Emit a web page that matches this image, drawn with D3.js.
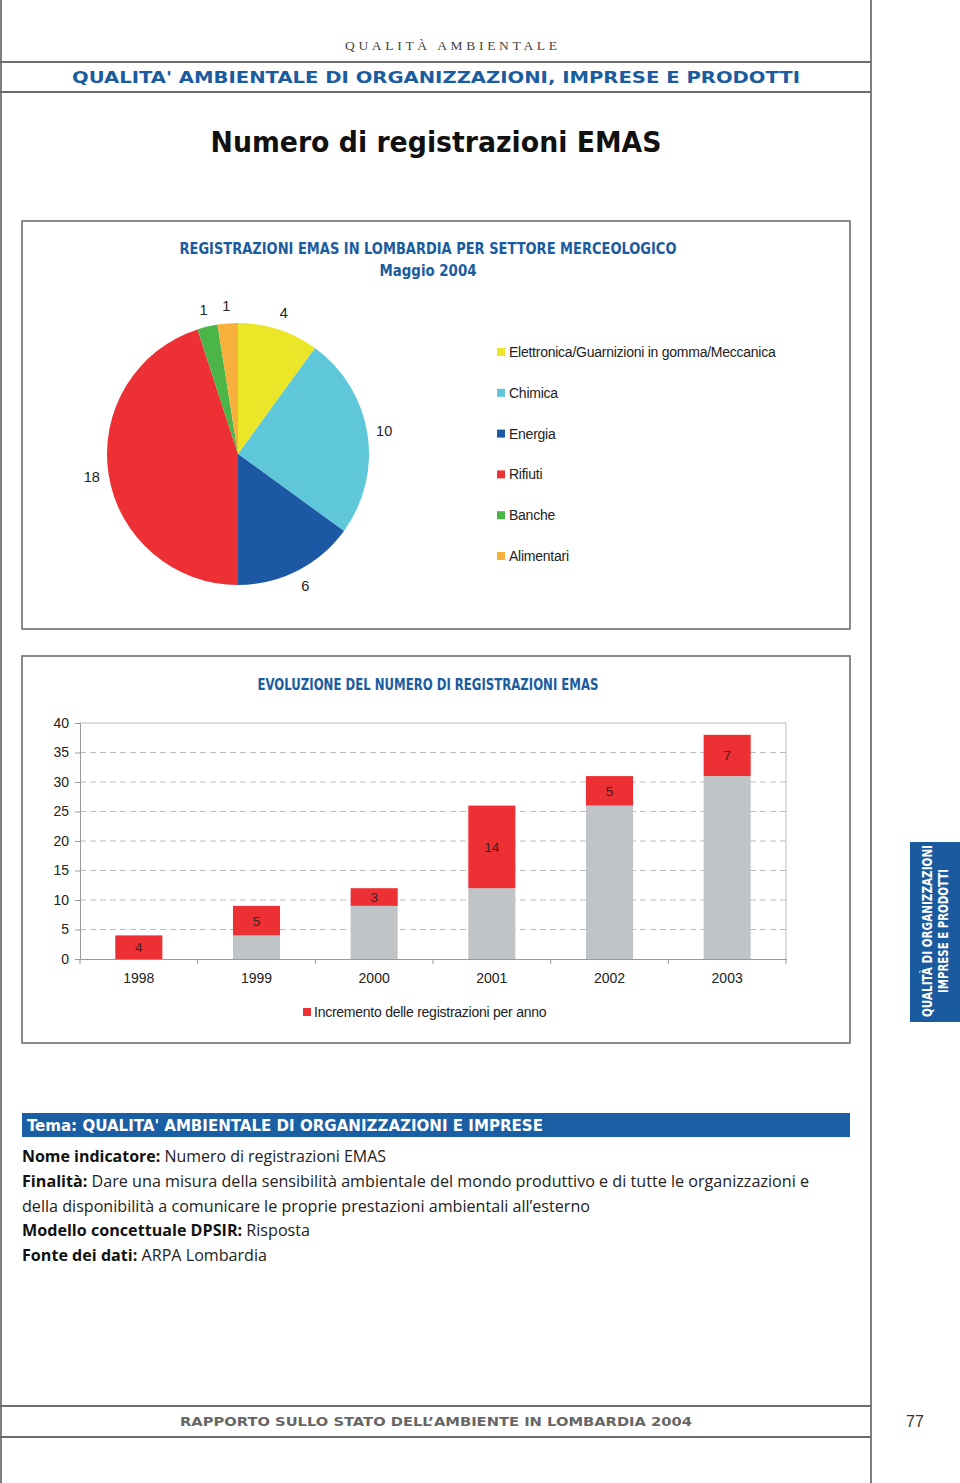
<!DOCTYPE html>
<html><head><meta charset="utf-8">
<script src="https://cdn.jsdelivr.net/npm/d3@7"></script>
<style>
html,body{margin:0;padding:0;background:#fff;}
svg{display:block;}
</style></head>
<body>
<script>
// ---- Data ----
const pieCategories = ["Elettronica/Guarnizioni in gomma/Meccanica","Chimica","Energia","Rifiuti","Banche","Alimentari"];
const pieValues = [4, 10, 6, 18, 1, 1];
const pieColors = ["#ece629","#5ec8da","#1d58a5","#ec3034","#4cb548","#f7b03c"];

const years = ["1998","1999","2000","2001","2002","2003"];
const baseValues = [0, 4, 9, 12, 26, 31];        // registrazioni precedenti (grigio)
const incrementValues = [4, 5, 3, 14, 5, 7];      // incremento per anno (rosso)
const yTicks = [0,5,10,15,20,25,30,35,40];

const W = 960, H = 1483;
const blue = "#1b5c9f";
const svg = d3.select("body").append("svg").attr("width", W).attr("height", H);

// ---- Page frame ----
svg.append("line").attr("x1",1).attr("x2",1).attr("y1",0).attr("y2",H).attr("stroke","#555").attr("stroke-width",1.5);
svg.append("line").attr("x1",871).attr("x2",871).attr("y1",0).attr("y2",H).attr("stroke","#555").attr("stroke-width",1.5);
[62,92,1406,1437].forEach(y=>{
  svg.append("line").attr("x1",0).attr("x2",871).attr("y1",y).attr("y2",y).attr("stroke","#6b6b6b").attr("stroke-width",2);
});

svg.append("text").attr("x",451).attr("y",50).attr("text-anchor","middle")
  .attr("font-family","Liberation Serif, serif").attr("font-size",13.5).attr("fill","#444")
  .attr("textLength",212).attr("lengthAdjust","spacing").text("QUALITÀ AMBIENTALE");
svg.append("text").attr("x",436).attr("y",83).attr("text-anchor","middle")
  .attr("font-family","DejaVu Sans, sans-serif").attr("font-weight","bold").attr("font-size",15).attr("fill",blue)
  .attr("textLength",728).attr("lengthAdjust","spacingAndGlyphs")
  .text("QUALITA' AMBIENTALE DI ORGANIZZAZIONI, IMPRESE E PRODOTTI");

svg.append("text").attr("x",436).attr("y",152).attr("text-anchor","middle")
  .attr("font-family","DejaVu Sans, sans-serif").attr("font-weight","bold").attr("font-size",29).attr("fill","#111")
  .attr("textLength",451).attr("lengthAdjust","spacingAndGlyphs")
  .text("Numero di registrazioni EMAS");

// ---- Pie box ----
svg.append("rect").attr("x",22).attr("y",221).attr("width",828).attr("height",408)
  .attr("fill","#fff").attr("stroke","#666").attr("stroke-width",1.5);
svg.append("text").attr("x",428).attr("y",254).attr("text-anchor","middle")
  .attr("font-family","DejaVu Sans Condensed, DejaVu Sans, sans-serif").attr("font-weight","bold").attr("font-size",15).attr("fill",blue)
  .attr("textLength",497).attr("lengthAdjust","spacingAndGlyphs")
  .text("REGISTRAZIONI EMAS IN LOMBARDIA PER SETTORE MERCEOLOGICO");
svg.append("text").attr("x",428).attr("y",276).attr("text-anchor","middle")
  .attr("font-family","DejaVu Sans Condensed, DejaVu Sans, sans-serif").attr("font-weight","bold").attr("font-size",15).attr("fill",blue)
  .attr("textLength",97).attr("lengthAdjust","spacingAndGlyphs")
  .text("Maggio 2004");

const pieData = pieCategories.map((c,i)=>({cat:c, value:pieValues[i], color:pieColors[i]}));
const pie = d3.pie().value(d=>d.value).sort(null);
const arcs = pie(pieData);
const arc = d3.arc().innerRadius(0).outerRadius(131);
const labelArc = d3.arc().innerRadius(148).outerRadius(148);
const pg = svg.append("g").attr("transform","translate(238,454)");
pg.selectAll("path").data(arcs).join("path").attr("d",arc).attr("fill",d=>d.data.color);
pg.selectAll("text").data(arcs).join("text")
  .attr("x",d=>labelArc.centroid(d)[0]).attr("y",d=>labelArc.centroid(d)[1]+5)
  .attr("text-anchor","middle").attr("font-family","Liberation Sans, Arial, sans-serif")
  .attr("font-size",14.5).attr("fill","#222").text(d=>d.data.value);

const lg = svg.append("g");
const legY = d3.scalePoint().domain(pieCategories).range([352,556]);
pieCategories.forEach((c,i)=>{
  lg.append("rect").attr("x",497).attr("y",legY(c)-4).attr("width",8).attr("height",8).attr("fill",pieColors[i]);
  lg.append("text").attr("x",509).attr("y",legY(c)+5).attr("font-family","Liberation Sans, Arial, sans-serif")
    .attr("font-size",14).attr("fill","#222").attr("letter-spacing",-0.25).text(c);
});

// ---- Bar box ----
svg.append("rect").attr("x",22).attr("y",656).attr("width",828).attr("height",387)
  .attr("fill","#fff").attr("stroke","#666").attr("stroke-width",1.5);
svg.append("text").attr("x",428).attr("y",690).attr("text-anchor","middle")
  .attr("font-family","DejaVu Sans Condensed, DejaVu Sans, sans-serif").attr("font-weight","bold").attr("font-size",15).attr("fill",blue)
  .attr("textLength",341).attr("lengthAdjust","spacingAndGlyphs")
  .text("EVOLUZIONE DEL NUMERO DI REGISTRAZIONI EMAS");

const x = d3.scaleBand().domain(years).range([80,786]).padding(0);
const y = d3.scaleLinear().domain([0,40]).range([959,723]);
const bg = svg.append("g");
// grid
bg.selectAll("line.grid").data(yTicks.filter(t=>t>0 && t<40)).join("line").attr("class","grid")
  .attr("x1",80).attr("x2",786).attr("y1",d=>y(d)).attr("y2",d=>y(d))
  .attr("stroke","#bbb").attr("stroke-width",1).attr("stroke-dasharray","6,4");
// plot frame top/right
bg.append("line").attr("x1",80).attr("x2",786).attr("y1",y(40)).attr("y2",y(40)).attr("stroke","#bbb");
bg.append("line").attr("x1",786).attr("x2",786).attr("y1",y(40)).attr("y2",y(0)).attr("stroke","#bbb");

const bw = x.bandwidth()*0.4;
const barData = years.map((yr,i)=>({yr, base:baseValues[i], inc:incrementValues[i]}));
bg.selectAll("rect.base").data(barData).join("rect").attr("class","base")
  .attr("x",d=>x(d.yr)+(x.bandwidth()-bw)/2).attr("width",bw)
  .attr("y",d=>y(d.base)).attr("height",d=>y(0)-y(d.base)).attr("fill","#c1c4c6");
bg.selectAll("rect.inc").data(barData).join("rect").attr("class","inc")
  .attr("x",d=>x(d.yr)+(x.bandwidth()-bw)/2).attr("width",bw)
  .attr("y",d=>y(d.base+d.inc)).attr("height",d=>y(d.base)-y(d.base+d.inc)).attr("fill","#ec3034");
bg.selectAll("text.inc").data(barData).join("text").attr("class","inc")
  .attr("x",d=>x(d.yr)+x.bandwidth()/2).attr("y",d=>(y(d.base)+y(d.base+d.inc))/2+5)
  .attr("text-anchor","middle").attr("font-family","Liberation Sans, Arial, sans-serif")
  .attr("font-size",13.5).attr("fill","#3a2222").text(d=>d.inc);

// axes
const yAxis = d3.axisLeft(y).tickValues(yTicks).tickSize(5).tickPadding(6);
const ya = svg.append("g").attr("transform","translate(80,0)").call(yAxis);
const xAxis = d3.axisBottom(x).tickSize(0).tickPadding(14);
const xa = svg.append("g").attr("transform",`translate(0,${y(0)})`).call(xAxis);
[ya,xa].forEach(a=>{
  a.select(".domain").attr("stroke","#999");
  a.selectAll(".tick line").attr("stroke","#999");
  a.selectAll("text").attr("font-family","Liberation Sans, Arial, sans-serif").attr("font-size",14).attr("fill","#222");
});
// x boundary ticks
xa.selectAll("line.bound").data(years.slice(1).concat(["__end"])).join("line").attr("class","bound")
  .attr("x1",d=>d==="__end"?786:x(d)).attr("x2",d=>d==="__end"?786:x(d))
  .attr("y1",0).attr("y2",5).attr("stroke","#999");
xa.append("line").attr("x1",80).attr("x2",80).attr("y1",0).attr("y2",5).attr("stroke","#999");

// legend
svg.append("rect").attr("x",303).attr("y",1008).attr("width",8).attr("height",8).attr("fill","#ec3034");
svg.append("text").attr("x",314).attr("y",1017).attr("font-family","Liberation Sans, Arial, sans-serif")
  .attr("font-size",14).attr("fill","#222").attr("letter-spacing",-0.25).text("Incremento delle registrazioni per anno");

// ---- Side tab ----
svg.append("rect").attr("x",910).attr("y",842).attr("width",50).attr("height",180).attr("fill","#1a5a9e");
const tab = svg.append("g").attr("transform","translate(932,931) rotate(-90)");
tab.append("text").attr("x",0).attr("y",0).attr("text-anchor","middle")
  .attr("font-family","DejaVu Sans Condensed, sans-serif").attr("font-weight","bold").attr("font-size",14).attr("fill","#fff")
  .attr("textLength",172).attr("lengthAdjust","spacingAndGlyphs").text("QUALITÀ DI ORGANIZZAZIONI");
tab.append("text").attr("x",0).attr("y",16).attr("text-anchor","middle")
  .attr("font-family","DejaVu Sans Condensed, sans-serif").attr("font-weight","bold").attr("font-size",14).attr("fill","#fff")
  .attr("textLength",124).attr("lengthAdjust","spacingAndGlyphs").text("IMPRESE E PRODOTTI");

// ---- Info block ----
svg.append("rect").attr("x",22).attr("y",1113).attr("width",828).attr("height",24).attr("fill","#1a5fa3");
svg.append("text").attr("x",27).attr("y",1131).attr("font-family","DejaVu Sans Condensed, sans-serif")
  .attr("font-weight","bold").attr("font-size",15).attr("fill","#fff")
  .attr("textLength",516).attr("lengthAdjust","spacingAndGlyphs")
  .text("Tema: QUALITA' AMBIENTALE DI ORGANIZZAZIONI E IMPRESE");

const infoLines = [
  {b:"Nome indicatore:", t:" Numero di registrazioni EMAS", y:1162, w:364},
  {b:"Finalità:", t:" Dare una misura della sensibilità ambientale del mondo produttivo e di tutte le organizzazioni e", y:1187, w:787},
  {b:"", t:"della disponibilità a comunicare le proprie prestazioni ambientali all’esterno", y:1212, w:568},
  {b:"Modello concettuale DPSIR:", t:" Risposta", y:1236, w:288},
  {b:"Fonte dei dati:", t:" ARPA Lombardia", y:1261, w:245}
];
infoLines.forEach(l=>{
  const t = svg.append("text").attr("x",22).attr("y",l.y).attr("font-family","Open Sans, sans-serif")
    .attr("font-size",15.5).attr("fill","#222").attr("textLength",l.w).attr("lengthAdjust","spacingAndGlyphs");
  if(l.b) t.append("tspan").attr("font-weight","bold").attr("fill","#111").text(l.b);
  t.append("tspan").text(l.t);
});

// ---- Footer ----
svg.append("text").attr("x",436).attr("y",1426).attr("text-anchor","middle")
  .attr("font-family","DejaVu Sans, sans-serif").attr("font-weight","bold").attr("font-size",13).attr("fill","#666")
  .attr("textLength",512).attr("lengthAdjust","spacingAndGlyphs")
  .text("RAPPORTO SULLO STATO DELL’AMBIENTE IN LOMBARDIA 2004");
svg.append("text").attr("x",915).attr("y",1427).attr("text-anchor","middle")
  .attr("font-family","Liberation Sans Narrow, Liberation Sans, sans-serif").attr("font-size",16).attr("fill","#333").text("77");
</script>
</body></html>
